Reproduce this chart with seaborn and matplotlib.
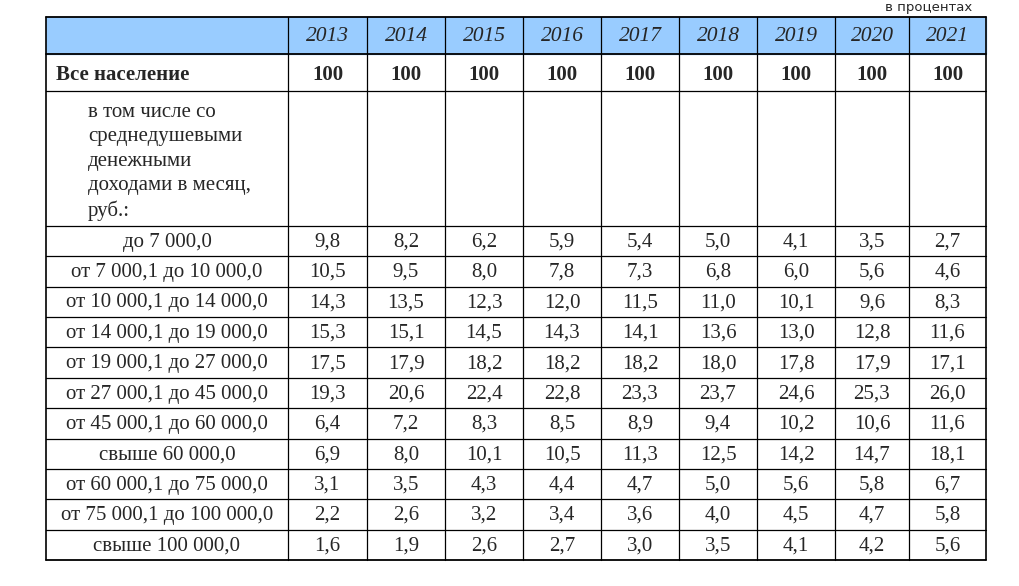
import matplotlib
matplotlib.use('Agg')
import matplotlib.pyplot as plt
import seaborn as sns

sns.set_theme(style='white')
plt.rcParams['font.family'] = ['Liberation Serif', 'DejaVu Serif']

# dados da tabela
anos = ['2013', '2014', '2015', '2016', '2017', '2018', '2019', '2020', '2021']
total = ['100'] * 9
faixas = ['до 7 000,0', 'от 7 000,1 до 10 000,0', 'от 10 000,1 до 14 000,0',
          'от 14 000,1 до 19 000,0', 'от 19 000,1 до 27 000,0', 'от 27 000,1 до 45 000,0',
          'от 45 000,1 до 60 000,0', 'свыше 60 000,0', 'от 60 000,1 до 75 000,0',
          'от 75 000,1 до 100 000,0', 'свыше 100 000,0']
valores = [
    [9.8, 8.2, 6.2, 5.9, 5.4, 5.0, 4.1, 3.5, 2.7],
    [10.5, 9.5, 8.0, 7.8, 7.3, 6.8, 6.0, 5.6, 4.6],
    [14.3, 13.5, 12.3, 12.0, 11.5, 11.0, 10.1, 9.6, 8.3],
    [15.3, 15.1, 14.5, 14.3, 14.1, 13.6, 13.0, 12.8, 11.6],
    [17.5, 17.9, 18.2, 18.2, 18.2, 18.0, 17.8, 17.9, 17.1],
    [19.3, 20.6, 22.4, 22.8, 23.3, 23.7, 24.6, 25.3, 26.0],
    [6.4, 7.2, 8.3, 8.5, 8.9, 9.4, 10.2, 10.6, 11.6],
    [6.9, 8.0, 10.1, 10.5, 11.3, 12.5, 14.2, 14.7, 18.1],
    [3.1, 3.5, 4.3, 4.4, 4.7, 5.0, 5.6, 5.8, 6.7],
    [2.2, 2.6, 3.2, 3.4, 3.6, 4.0, 4.5, 4.7, 5.8],
    [1.6, 1.9, 2.6, 2.7, 3.0, 3.5, 4.1, 4.2, 5.6],
]
subtitulo = 'в том числе со\nсреднедушевыми\nденежными\nдоходами в месяц,\nруб.:'

fig = plt.figure(figsize=(10.2, 5.86), dpi=100)
ax = fig.add_axes([0, 0, 1, 1])
ax.set_xlim(0, 1020)
ax.set_ylim(586, 0)
ax.axis('off')

# geometria em pixels
xs = [46, 288, 367, 445, 523, 601, 679, 757, 835, 909, 986]
topo, cab, linha_total, bloco = 17, 54, 91, 226
fundo = 560
altura = (fundo - bloco) / len(faixas)
ys = [topo, cab, linha_total, bloco] + [bloco + altura * (i + 1) for i in range(len(faixas))]

ax.add_patch(plt.Rectangle((xs[0], topo), xs[-1] - xs[0], cab - topo, color='#99ccff', zorder=0))

for y in ys:
    lw = 1.3 if y in (topo, cab, fundo) else 0.9
    ax.plot([xs[0], xs[-1]], [y, y], color='black', lw=lw)
for x in xs:
    ax.plot([x, x], [topo, fundo], color='black', lw=1.2 if x in (xs[0], xs[-1]) else 0.9)

fs = 15
for j, ano in enumerate(anos):
    cx = (xs[j + 1] + xs[j + 2]) / 2
    ax.text(cx, (topo + cab) / 2 + 1, ano, ha='center', va='center', fontsize=15.5, style='italic')
    ax.text(cx, (cab + linha_total) / 2 + 3, total[j], ha='center', va='center', fontsize=fs, weight='bold')

ax.text(56, (cab + linha_total) / 2 + 3, 'Все население', ha='left', va='center', fontsize=fs, weight='bold')
ax.text(88, 103, subtitulo, ha='left', va='top', fontsize=fs, linespacing=1.38)

for i, nome in enumerate(faixas):
    cy = bloco + altura * (i + 0.5) + 1
    ax.text((xs[0] + xs[1]) / 2, cy, nome, ha='center', va='center', fontsize=fs)
    for j, v in enumerate(valores[i]):
        cx = (xs[j + 1] + xs[j + 2]) / 2
        ax.text(cx, cy, f'{v:.1f}'.replace('.', ','), ha='center', va='center', fontsize=fs)

ax.text(972, 7, 'в процентах', ha='right', va='center', fontsize=9.5, family=['DejaVu Sans'])

plt.savefig('out.png', dpi=100)
plt.close()
